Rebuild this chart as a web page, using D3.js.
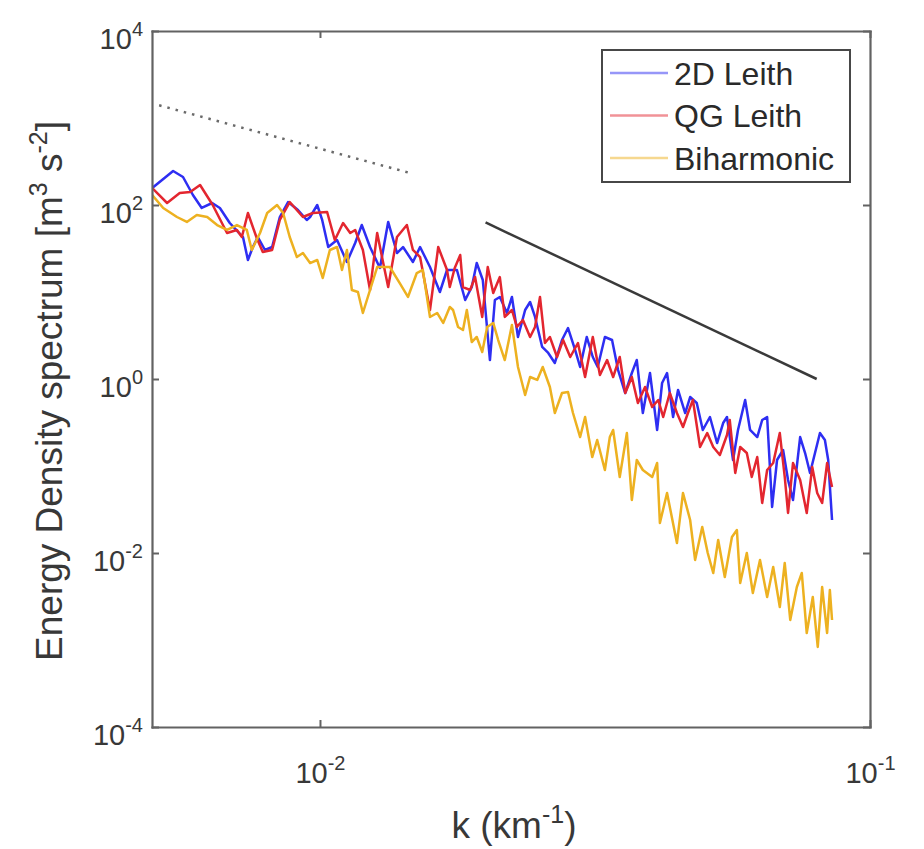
<!DOCTYPE html>
<html>
<head>
<meta charset="utf-8">
<script src="https://cdn.jsdelivr.net/npm/d3@7"></script>
<style>
  body { margin: 0; background: #fff; }
  svg { display: block; font-family: "Liberation Sans", Arial, Helvetica, sans-serif; }
</style>
</head>
<body>
<div id="chart"></div>
<script>
// values, stored as log10(k [km^-1]) and log10(E [m^3 s^-2])
const logK2D = [-2.305,-2.267,-2.249,-2.231,-2.215,-2.196,-2.182,-2.164,-2.149,-2.140,-2.131,-2.122,-2.113,-2.100,-2.087,-2.073,-2.058,-2.040,-2.024,-2.018,-2.005,-1.996,-1.985,-1.969,-1.951,-1.936,-1.924,-1.909,-1.891,-1.876,-1.860,-1.849,-1.831,-1.818,-1.800,-1.782,-1.769,-1.751,-1.736,-1.724,-1.715,-1.704,-1.691,-1.682,-1.673,-1.660,-1.651,-1.640,-1.627,-1.618,-1.609,-1.596,-1.585,-1.573,-1.560,-1.549,-1.536,-1.527,-1.515,-1.504,-1.495,-1.482,-1.469,-1.458,-1.445,-1.433,-1.424,-1.413,-1.400,-1.387,-1.378,-1.369,-1.358,-1.349,-1.336,-1.327,-1.315,-1.304,-1.291,-1.278,-1.267,-1.260,-1.249,-1.240,-1.227,-1.218,-1.205,-1.196,-1.187,-1.178,-1.169,-1.158,-1.149,-1.140,-1.127,-1.118,-1.109,-1.100,-1.091,-1.082,-1.076,-1.069];
const logE2D = [2.195,2.391,2.322,2.115,1.966,2.023,1.966,1.793,1.690,1.632,1.368,1.517,1.632,1.483,1.517,1.862,2.034,1.943,1.828,1.862,2.000,1.828,1.517,1.598,1.345,1.563,1.770,1.517,1.276,1.805,1.448,1.517,1.345,1.517,1.287,1.000,1.253,1.253,0.908,1.057,1.333,1.138,0.218,0.908,0.943,0.759,0.943,0.483,0.793,0.885,0.713,0.368,0.299,0.184,0.448,0.586,0.333,0.138,0.483,0.253,0.138,0.483,0.448,0.103,-0.161,0.069,0.218,-0.391,0.069,-0.586,-0.046,0.069,-0.437,-0.126,-0.391,-0.207,-0.276,-0.586,-0.437,-0.736,-0.506,-0.437,-0.931,-0.586,-0.241,-0.586,-0.667,-0.471,-0.437,-1.471,-0.931,-0.816,-1.161,-1.391,-0.667,-0.851,-1.080,-0.851,-0.621,-0.701,-0.931,-1.621];

const logKQG = [-2.305,-2.278,-2.255,-2.236,-2.218,-2.195,-2.169,-2.151,-2.142,-2.131,-2.115,-2.104,-2.087,-2.073,-2.055,-2.031,-2.013,-1.987,-1.973,-1.958,-1.945,-1.936,-1.922,-1.909,-1.896,-1.885,-1.876,-1.860,-1.842,-1.831,-1.818,-1.800,-1.785,-1.769,-1.764,-1.755,-1.745,-1.740,-1.727,-1.718,-1.705,-1.695,-1.685,-1.673,-1.664,-1.651,-1.642,-1.631,-1.618,-1.609,-1.600,-1.591,-1.582,-1.569,-1.558,-1.545,-1.531,-1.518,-1.504,-1.491,-1.478,-1.467,-1.455,-1.445,-1.433,-1.422,-1.409,-1.396,-1.385,-1.376,-1.364,-1.351,-1.340,-1.331,-1.322,-1.309,-1.296,-1.285,-1.273,-1.260,-1.255,-1.245,-1.236,-1.224,-1.215,-1.205,-1.196,-1.187,-1.176,-1.164,-1.155,-1.149,-1.140,-1.127,-1.115,-1.105,-1.096,-1.087,-1.078,-1.069];
const logEQG = [2.195,2.023,2.138,2.149,2.230,2.000,1.678,1.713,1.632,1.908,1.621,1.460,1.483,1.828,2.034,1.862,1.908,1.920,1.598,1.793,1.678,1.713,1.483,1.023,1.678,1.333,1.057,1.632,1.770,1.483,1.402,0.793,1.517,1.253,1.057,1.276,1.425,1.057,1.023,1.172,0.713,1.287,0.989,1.172,0.713,0.793,0.598,0.678,0.483,0.598,0.943,0.414,0.483,0.253,0.448,0.253,0.414,0.023,0.483,0.046,0.218,0.023,0.253,-0.161,0.023,-0.276,-0.092,-0.322,-0.241,-0.437,-0.161,-0.391,-0.552,-0.391,-0.241,-0.782,-0.621,-0.782,-0.874,-0.644,-0.471,-1.080,-0.782,-0.851,-1.126,-0.897,-1.425,-1.046,-0.966,-0.621,-1.126,-1.540,-0.966,-1.161,-1.540,-1.011,-1.310,-1.425,-0.966,-1.241];

const logKBi = [-2.305,-2.285,-2.260,-2.242,-2.224,-2.205,-2.187,-2.169,-2.151,-2.133,-2.124,-2.109,-2.096,-2.078,-2.067,-2.055,-2.042,-2.031,-2.018,-2.005,-1.995,-1.982,-1.969,-1.960,-1.951,-1.942,-1.931,-1.922,-1.909,-1.896,-1.885,-1.873,-1.855,-1.840,-1.824,-1.813,-1.800,-1.787,-1.776,-1.764,-1.758,-1.749,-1.740,-1.733,-1.724,-1.715,-1.705,-1.696,-1.685,-1.676,-1.664,-1.651,-1.640,-1.627,-1.618,-1.605,-1.595,-1.582,-1.573,-1.560,-1.549,-1.540,-1.527,-1.518,-1.505,-1.496,-1.482,-1.473,-1.467,-1.455,-1.442,-1.433,-1.424,-1.413,-1.396,-1.387,-1.382,-1.369,-1.351,-1.340,-1.327,-1.318,-1.305,-1.295,-1.285,-1.276,-1.264,-1.251,-1.242,-1.236,-1.224,-1.213,-1.200,-1.187,-1.176,-1.164,-1.155,-1.145,-1.133,-1.124,-1.115,-1.104,-1.095,-1.087,-1.078,-1.073,-1.069];
const logEBi = [2.115,1.966,1.862,1.805,1.885,1.862,1.770,1.713,1.770,1.713,1.483,1.678,1.908,2.000,1.908,1.632,1.402,1.448,1.333,1.368,1.161,1.483,1.517,1.253,1.483,1.023,1.000,0.759,1.023,1.287,1.287,1.287,1.103,0.943,1.218,1.253,0.713,0.759,0.644,0.828,0.793,0.598,0.563,0.793,0.425,0.483,0.310,0.598,0.644,0.448,0.218,0.621,0.138,-0.184,0.023,-0.011,0.138,-0.092,-0.391,-0.161,-0.149,-0.391,-0.667,-0.437,-0.897,-0.701,-1.046,-0.667,-0.586,-1.126,-0.621,-1.391,-0.931,-1.046,-1.126,-0.966,-1.655,-1.310,-1.885,-1.310,-1.621,-2.080,-1.701,-2.000,-2.230,-1.851,-2.276,-1.816,-1.736,-2.345,-2.000,-2.460,-2.080,-2.506,-2.161,-2.621,-2.115,-2.770,-2.391,-2.230,-2.920,-2.506,-3.080,-2.391,-2.920,-2.425,-2.770];

const seriesNames = ["2D Leith", "QG Leith", "Biharmonic"];
const seriesColors = ["#2e2ef2", "#e3262f", "#edb120"];

// reference slopes (k^-5/3 dotted, k^-3 solid)
const slope53K = [0.0051, 0.0147];
const slope53E = [1400, 230];
const slope3K = [0.02, 0.08];
const slope3E = [63, 1.0];

const xTicks = [0.01, 0.1];
const yTicks = [1e-4, 1e-2, 1, 1e2, 1e4];

const width = 924;
const height = 849;
const margin = { top: 31, right: 54, bottom: 122, left: 152 };
const axisColor = "#626262";
const textColor = "#383838";

const x = d3
  .scaleLog()
  .domain([0.00495, 0.1])
  .range([margin.left, width - margin.right]);

const y = d3
  .scaleLog()
  .domain([1e-4, 1e4])
  .range([height - margin.bottom, margin.top]);

const svg = d3
  .select("#chart")
  .append("svg")
  .attr("width", width)
  .attr("height", height);

svg
  .append("clipPath")
  .attr("id", "plot-clip")
  .append("rect")
  .attr("x", x.range()[0])
  .attr("y", y.range()[1])
  .attr("width", x.range()[1] - x.range()[0])
  .attr("height", y.range()[0] - y.range()[1]);

const line = d3
  .line()
  .x((d) => x(d[0]))
  .y((d) => y(d[1]));

const series = [
  { lk: logK2D, le: logE2D },
  { lk: logKQG, le: logEQG },
  { lk: logKBi, le: logEBi },
];

series.forEach((s, i) => {
  const pts = s.lk.map((v, j) => [10 ** v, 10 ** s.le[j]]);
  svg
    .append("path")
    .datum(pts)
    .attr("clip-path", "url(#plot-clip)")
    .attr("fill", "none")
    .attr("stroke", seriesColors[i])
    .attr("stroke-width", 2.5)
    .attr("stroke-linejoin", "round")
    .attr("d", line);
});

// slope guides
svg
  .append("path")
  .datum(d3.zip(slope53K, slope53E))
  .attr("fill", "none")
  .attr("stroke", "#6a6a6a")
  .attr("stroke-width", 2.5)
  .attr("stroke-dasharray", "2.5,6")
  .attr("d", line);

svg
  .append("path")
  .datum(d3.zip(slope3K, slope3E))
  .attr("fill", "none")
  .attr("stroke", "#3a3a3a")
  .attr("stroke-width", 2.5)
  .attr("d", line);

// axes
const tickFont = 29;
const supFont = 20;

const powLabels = (g) => {
  g.selectAll(".tick text").each(function (d) {
    const t = d3.select(this);
    const e = Math.round(Math.log10(d));
    t.text(null);
    t.append("tspan").text("10");
    t.append("tspan")
      .attr("dy", -13)
      .attr("font-size", supFont)
      .text(e);
  });
};

const styleAxis = (g) => {
  g.select(".domain").attr("stroke", axisColor).attr("stroke-width", 2.2);
  g.selectAll(".tick line").attr("stroke", axisColor).attr("stroke-width", 2);
  g.selectAll(".tick text")
    .attr("fill", textColor)
    .attr("font-size", tickFont);
};

svg
  .append("g")
  .attr("transform", `translate(0,${y.range()[0]})`)
  .call(
    d3.axisBottom(x).tickValues(xTicks).tickSizeInner(-7).tickSizeOuter(0).tickPadding(35)
  )
  .call(styleAxis)
  .call(powLabels);

svg
  .append("g")
  .attr("transform", `translate(0,${y.range()[1]})`)
  .call(
    d3.axisTop(x).tickValues(xTicks).tickSizeInner(-7).tickSizeOuter(0).tickFormat(() => "")
  )
  .call(styleAxis);

svg
  .append("g")
  .attr("transform", `translate(${x.range()[0]},0)`)
  .call(
    d3.axisLeft(y).tickValues(yTicks).tickSizeInner(-7).tickSizeOuter(0).tickPadding(9)
  )
  .call(styleAxis)
  .call(powLabels)
  .call((g) => g.selectAll(".tick text").attr("dy", "0.6em"));

svg
  .append("g")
  .attr("transform", `translate(${x.range()[1]},0)`)
  .call(
    d3.axisRight(y).tickValues(yTicks).tickSizeInner(-7).tickSizeOuter(0).tickFormat(() => "")
  )
  .call(styleAxis);

svg.selectAll(".domain").attr("stroke-linecap", "square");

// axis titles
const yLabel = svg
  .append("text")
  .attr("transform", "translate(62,391) rotate(-90)")
  .attr("text-anchor", "middle")
  .attr("font-size", 37)
  .attr("fill", textColor);
yLabel.append("tspan").text("Energy Density spectrum [m");
yLabel.append("tspan").attr("dy", -15).attr("font-size", 25).text("3");
yLabel.append("tspan").attr("dy", 15).text(" s");
yLabel.append("tspan").attr("dy", -15).attr("font-size", 25).text("-2");
yLabel.append("tspan").attr("dy", 15).text("]");

const xLabel = svg
  .append("text")
  .attr("x", 514)
  .attr("y", 838)
  .attr("text-anchor", "middle")
  .attr("font-size", 37)
  .attr("fill", textColor);
xLabel.append("tspan").text("k (km");
xLabel.append("tspan").attr("dy", -15).attr("font-size", 25).text("-1");
xLabel.append("tspan").attr("dy", 15).text(")");

// legend
const legend = svg.append("g").attr("transform", "translate(602,50)");
legend
  .append("rect")
  .attr("width", 248)
  .attr("height", 132)
  .attr("fill", "#fff")
  .attr("stroke", "#474747")
  .attr("stroke-width", 2);

seriesNames.forEach((name, i) => {
  const row = legend.append("g").attr("transform", `translate(0,${23 + i * 42.5})`);
  row
    .append("line")
    .attr("x1", 8)
    .attr("x2", 66)
    .attr("stroke", seriesColors[i])
    .attr("stroke-opacity", 0.5)
    .attr("stroke-width", 2.5);
  row
    .append("text")
    .attr("x", 72)
    .attr("dy", "0.36em")
    .attr("font-size", 32)
    .attr("fill", "#2a2a2a")
    .text(name);
});
</script>
</body>
</html>
